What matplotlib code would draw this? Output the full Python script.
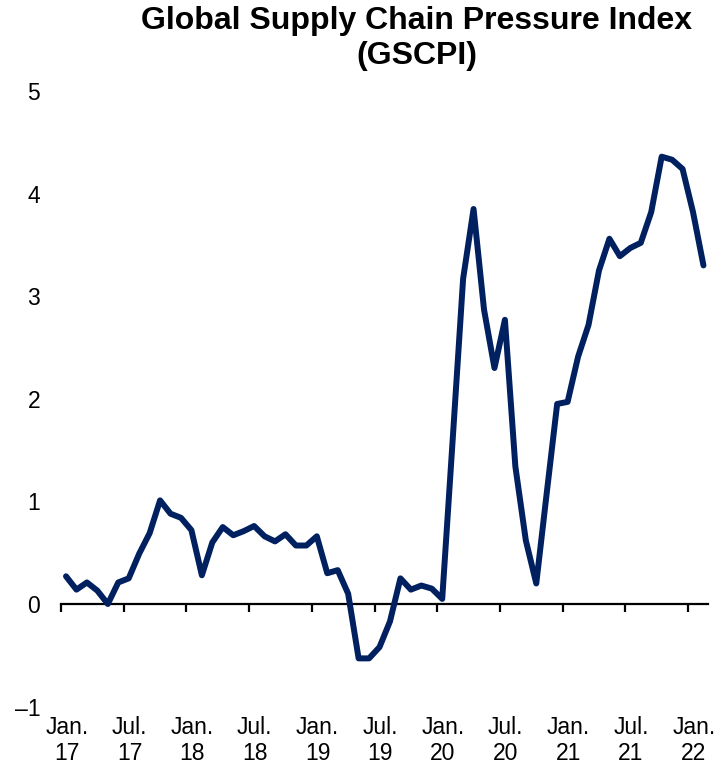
import matplotlib
matplotlib.use("Agg")
import matplotlib.pyplot as plt
import matplotlib.transforms as mtransforms
import numpy as np

plt.rcParams['font.family'] = ['Liberation Sans', 'DejaVu Sans']

# Monthly GSCPI, Jan 2017 .. Feb 2022
gscpi = [0.27, 0.14, 0.21, 0.13, 0.00, 0.21, 0.25, 0.49, 0.69, 1.01, 0.88, 0.84,
         0.72, 0.28, 0.60, 0.75, 0.67, 0.71, 0.76, 0.66, 0.61, 0.68, 0.57, 0.57,
         0.66, 0.30, 0.33, 0.10, -0.53, -0.53, -0.42, -0.17, 0.25, 0.14, 0.18, 0.15,
         0.05, 1.60, 3.17, 3.85, 2.87, 2.30, 2.77, 1.34, 0.62, 0.20, 1.08, 1.95,
         1.97, 2.41, 2.72, 3.25, 3.56, 3.39, 3.47, 3.52, 3.82, 4.36, 4.33, 4.24,
         3.82, 3.30]
tick_months = [0, 6, 12, 18, 24, 30, 36, 42, 48, 54, 60]
tick_labels = ["Jan.\n17", "Jul.\n17", "Jan.\n18", "Jul.\n18", "Jan.\n19", "Jul.\n19",
               "Jan.\n20", "Jul.\n20", "Jan.\n21", "Jul.\n21", "Jan.\n22"]
y_ticks = [-1, 0, 1, 2, 3, 4, 5]
title = "Global Supply Chain Pressure Index\n(GSCPI)"

W, H = 715, 764
fig = plt.figure(figsize=(W / 100, H / 100), dpi=100)
left_px, right_px = 61, 708
top_px, bot_px = 91, 706.6
ax = fig.add_axes([left_px / W, 1 - bot_px / H, (right_px - left_px) / W, (bot_px - top_px) / H])

x = np.arange(len(gscpi)) + 0.48
ax.plot(x, gscpi, color='#002060', lw=4.3, solid_capstyle='round', solid_joinstyle='round', zorder=3)

ax.set_xlim(0, (right_px - left_px) / 10.45)
ax.set_ylim(-1, 5)

for s in ['left', 'right', 'top']:
    ax.spines[s].set_visible(False)
ax.spines['bottom'].set_position(('data', 0))
ax.spines['bottom'].set_linewidth(1.6)
ax.spines['bottom'].set_color('black')

ax.set_xticks(tick_months)
ax.set_xticklabels([])
ax.tick_params(axis='x', direction='out', length=6, width=1.6, color='black')

ax.set_yticks(y_ticks)
ax.set_yticklabels([str(v).replace('-', '\u2013') for v in y_ticks])
ax.tick_params(axis='y', length=0, pad=15, labelsize=16.5)

trans = mtransforms.blended_transform_factory(ax.transData, ax.transAxes)
for m, lab in zip(tick_months, tick_labels):
    ax.text(m + 0.55, -0.016, lab, transform=trans, ha='center', va='top',
            fontsize=16.5, linespacing=1.15)

fig.text(0.583, 1 - 6 / H, title, ha='center', va='top', fontsize=23,
         fontweight='bold', linespacing=1.2, multialignment='center')

fig.savefig("out.png", dpi=100, facecolor='white')
